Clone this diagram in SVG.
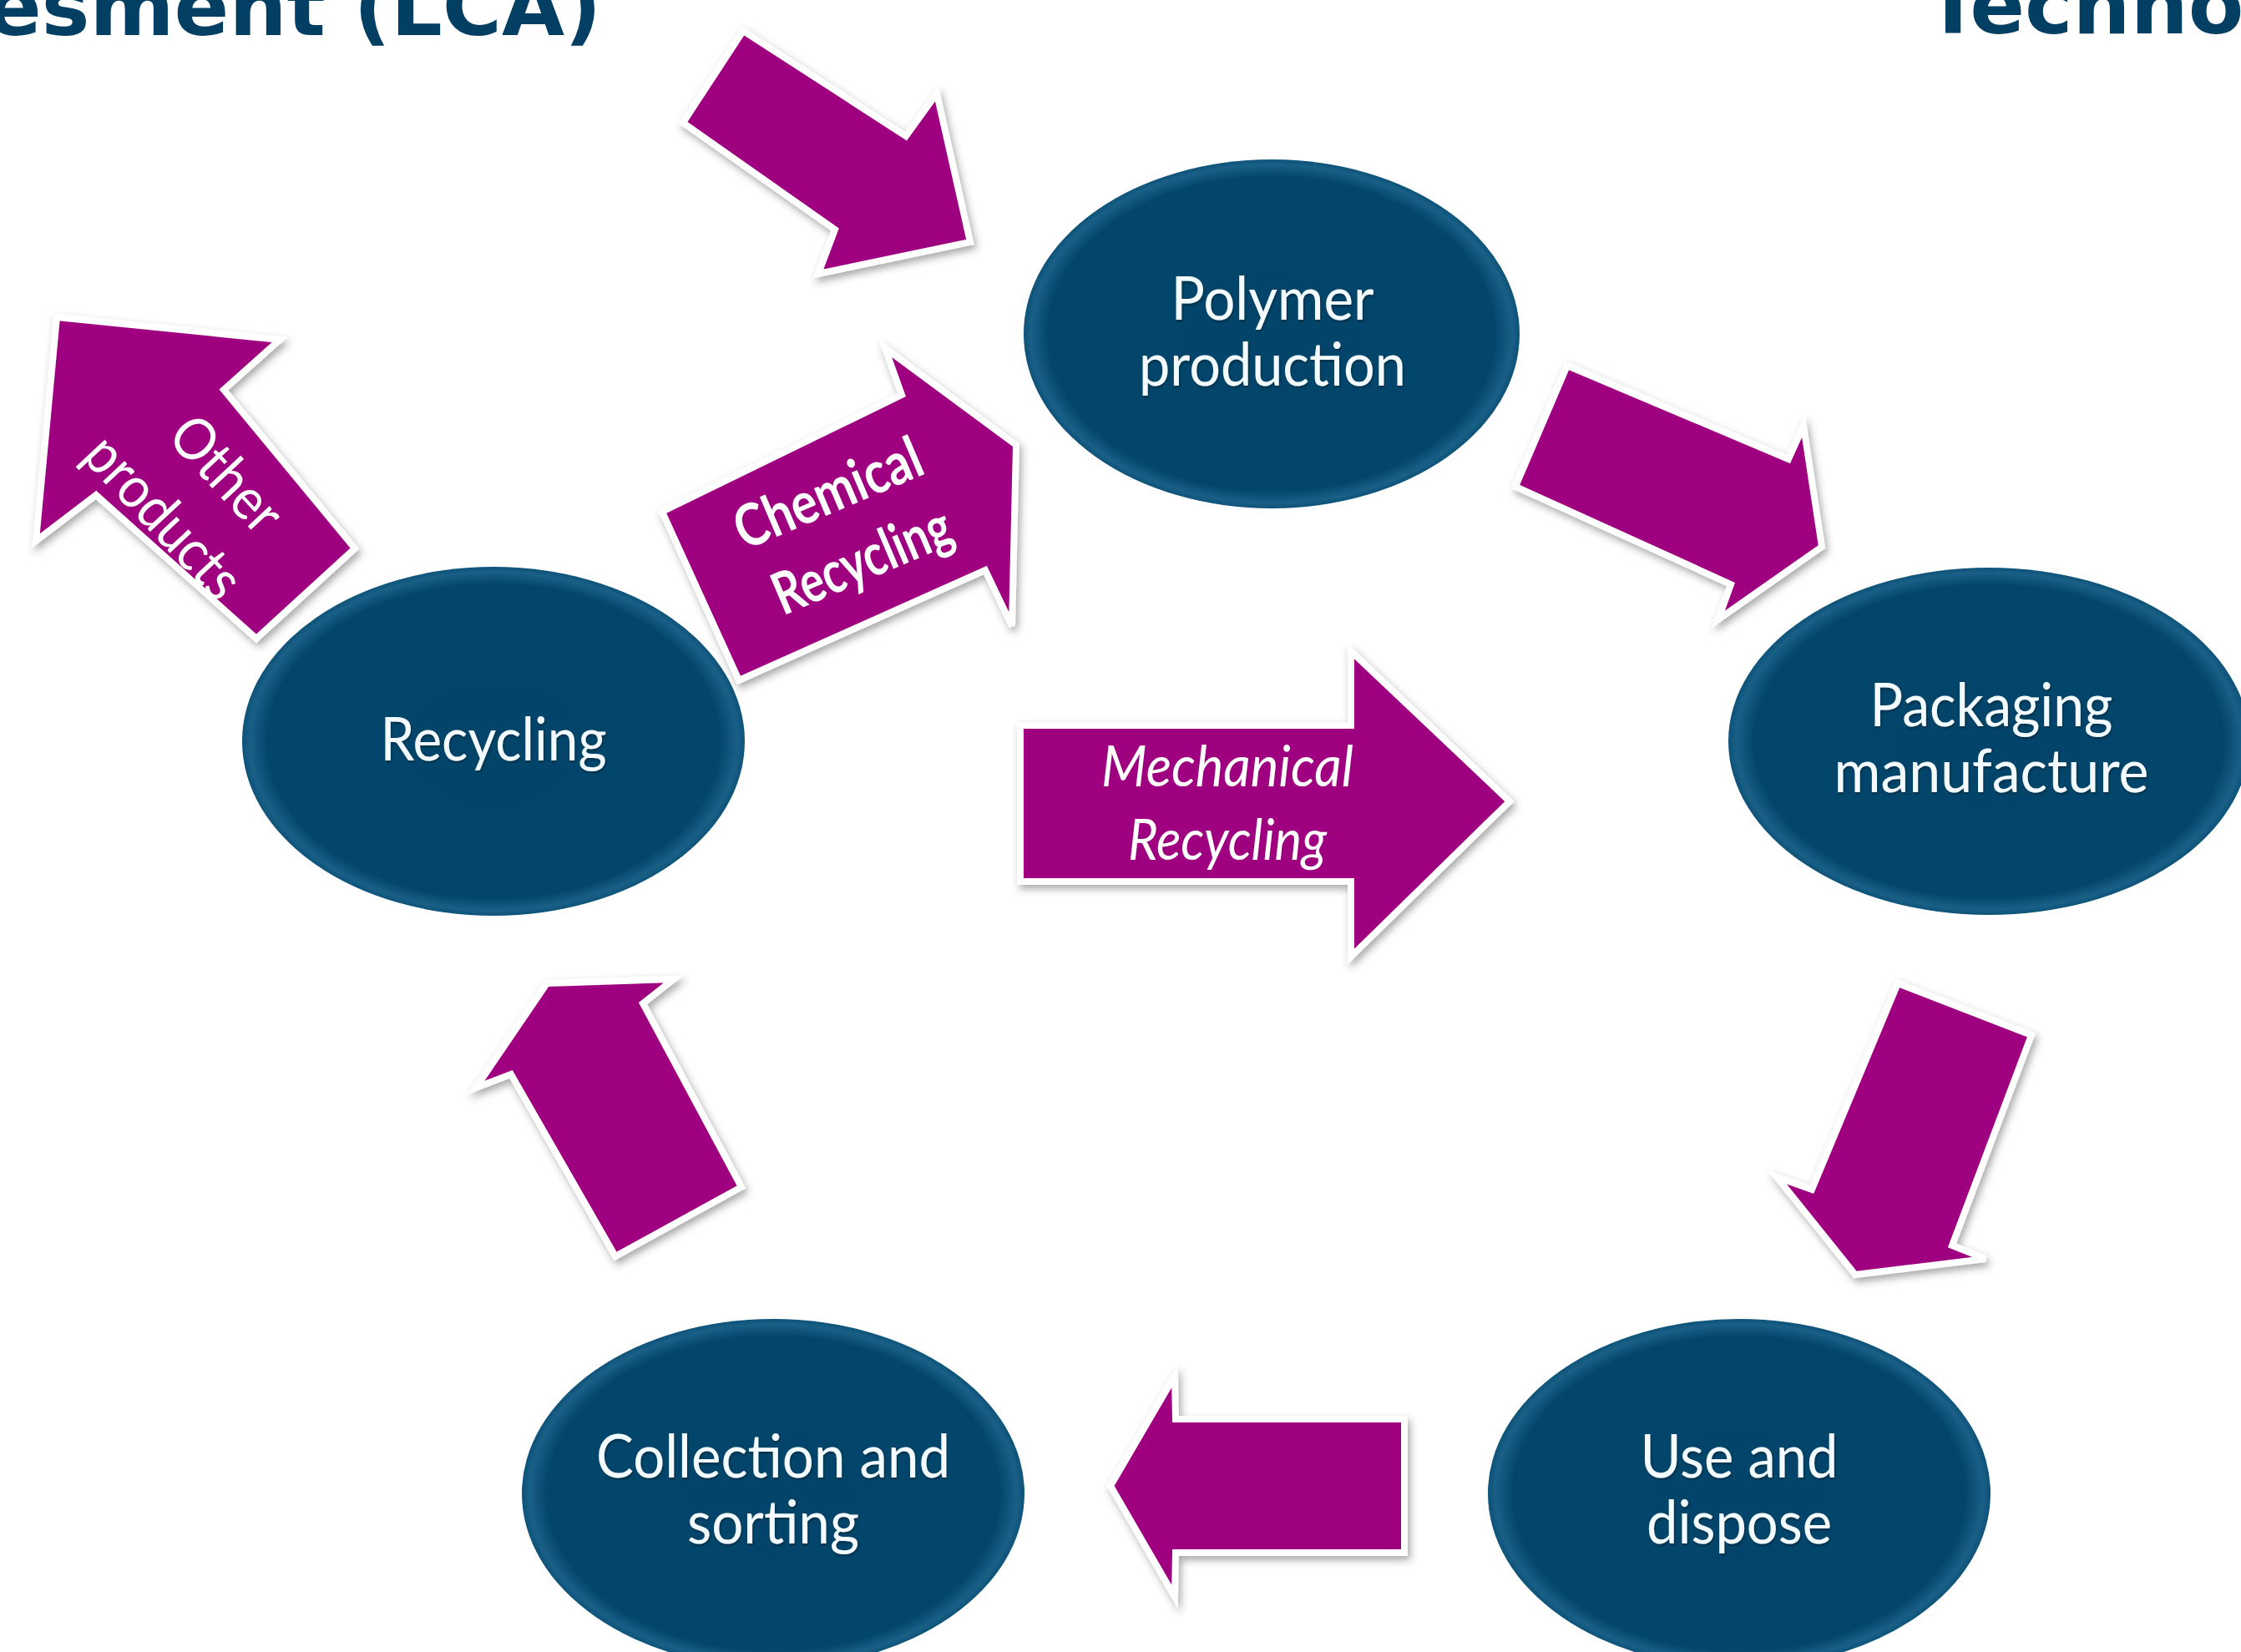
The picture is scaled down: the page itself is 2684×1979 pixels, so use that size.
<svg xmlns="http://www.w3.org/2000/svg" width="2684" height="1979" viewBox="0 0 2684 1979">
<defs>
<radialGradient id="eg" cx="50%" cy="50%" r="50%">
<stop offset="0" stop-color="#03456a"/>
<stop offset="0.9" stop-color="#03466b"/>
<stop offset="0.97" stop-color="#1a5f86"/>
<stop offset="1" stop-color="#0c5279"/>
</radialGradient>
<filter id="sh" x="-20%" y="-20%" width="140%" height="140%">
<feDropShadow dx="3" dy="5" stdDeviation="5" flood-color="#404040" flood-opacity="0.45"/>
</filter>
<filter id="tsh" x="-10%" y="-30%" width="120%" height="160%">
<feDropShadow dx="1" dy="2" stdDeviation="1.5" flood-color="#000000" flood-opacity="0.35"/>
</filter>
</defs>
<style>
.node{fill:url(#eg);}
.nt{font-family:Lato,"Open Sans","Liberation Sans",sans-serif;font-size:72px;fill:#f3fbff;text-anchor:middle;}
.arr{fill:#9e007f;stroke:#ffffff;stroke-width:8;stroke-linejoin:miter;filter:url(#sh);}
.at{font-family:Lato,"Open Sans","Liberation Sans",sans-serif;fill:#ffffff;text-anchor:middle;}
.title{font-family:"DejaVu Sans",Verdana,sans-serif;font-weight:bold;font-size:97px;fill:#023f62;}
</style>
<rect width="2684" height="1979" fill="#ffffff"/>

<g id="titles">
<text class="title" x="-16" y="42">esment (LCA)</text>
<text class="title" x="2306" y="40">Techno</text>
</g>

<g id="node-polymer">
<ellipse class="node" cx="1523" cy="400" rx="297" ry="209"/>
<text class="nt" filter="url(#tsh)" x="1524" y="383" textLength="243" lengthAdjust="spacingAndGlyphs">Polymer</text>
<text class="nt" filter="url(#tsh)" x="1524" y="462" textLength="320" lengthAdjust="spacingAndGlyphs">production</text>
</g>
<g id="node-packaging">
<ellipse class="node" cx="2382" cy="888" rx="312" ry="208"/>
<text class="nt" filter="url(#tsh)" x="2385" y="870" textLength="291" lengthAdjust="spacingAndGlyphs">Packaging</text>
<text class="nt" filter="url(#tsh)" x="2385" y="949" textLength="377" lengthAdjust="spacingAndGlyphs">manufacture</text>
</g>
<g id="node-recycling">
<ellipse class="node" cx="591" cy="888" rx="301" ry="209"/>
<text class="nt" filter="url(#tsh)" x="591" y="911" textLength="271" lengthAdjust="spacingAndGlyphs">Recycling</text>
</g>
<g id="node-collection">
<ellipse class="node" cx="926" cy="1789" rx="301" ry="209"/>
<text class="nt" filter="url(#tsh)" x="926" y="1770" textLength="424" lengthAdjust="spacingAndGlyphs">Collection and</text>
<text class="nt" filter="url(#tsh)" x="926" y="1849" textLength="206" lengthAdjust="spacingAndGlyphs">sorting</text>
</g>
<g id="node-use">
<ellipse class="node" cx="2083" cy="1789" rx="301" ry="209"/>
<text class="nt" filter="url(#tsh)" x="2083" y="1770" textLength="237" lengthAdjust="spacingAndGlyphs">Use and</text>
<text class="nt" filter="url(#tsh)" x="2083" y="1849" textLength="222" lengthAdjust="spacingAndGlyphs">dispose</text>
</g>

<g id="connectors">
<polygon class="arr" points="890,37 1085,163 1122,112 1162,290 980,328 1000,275 818,147"/>
<polygon class="arr" points="68,380 335,407 268,467 425,657 307,765 115,593 43,648"/>
<polygon class="arr" points="793,613 1080,473 1060,417 1217,533 1212,750 1180,683 885,815"/>
<polygon class="arr" points="1222,869 1618,869 1618,780 1808,960 1618,1146 1618,1056 1222,1056"/>
<polygon class="arr" points="1877,438 2142,550 2160,510 2182,655 2058,742 2073,700 1815,583"/>
<polygon class="arr" points="2273,1178 2433,1240 2338,1492 2378,1508 2222,1527 2128,1410 2170,1425"/>
<polygon class="arr" points="1330,1780 1407,1648 1408,1700 1682,1700 1682,1860 1408,1860 1407,1913"/>
<polygon class="arr" points="655,1178 807,1173 770,1202 888,1422 737,1505 612,1287 570,1303"/>

<g transform="translate(230 597) rotate(47)">
<text class="at" font-size="70" x="7" y="-26" textLength="163" lengthAdjust="spacingAndGlyphs">Other</text>
<text class="at" font-size="70" x="-7" y="64" textLength="240" lengthAdjust="spacingAndGlyphs">products</text>
</g>
<g transform="translate(1001 613) rotate(-23)">
<text class="at" font-size="70" font-weight="bold" x="0" y="0" textLength="238" lengthAdjust="spacingAndGlyphs">Chemical</text>
<text class="at" font-size="70" font-weight="bold" x="6" y="90" textLength="226" lengthAdjust="spacingAndGlyphs">Recycling</text>
</g>
<text class="at" font-size="68" font-style="italic" x="1470" y="942" textLength="302" lengthAdjust="spacingAndGlyphs">Mechanical</text>
<text class="at" font-size="68" font-style="italic" x="1470" y="1030" textLength="238" lengthAdjust="spacingAndGlyphs">Recycling</text>
</g>
</svg>
